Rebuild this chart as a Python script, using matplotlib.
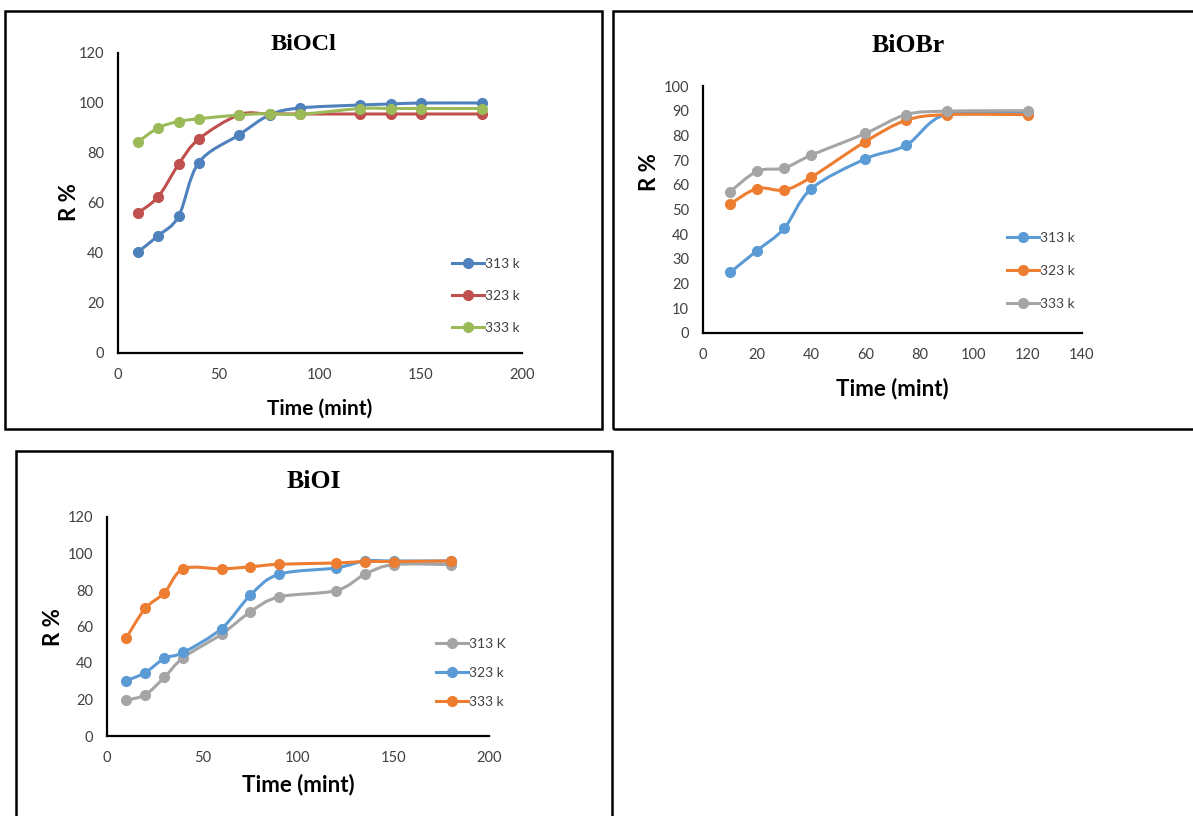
import numpy as np
import matplotlib
matplotlib.use("Agg")
import matplotlib.pyplot as plt
from matplotlib.path import Path
from matplotlib.patches import PathPatch, Rectangle
from matplotlib.lines import Line2D

# ---------------- data ----------------
t_cl = [10, 20, 30, 40, 60, 75, 90, 120, 135, 150, 180]
cl_313 = [40.5, 47, 54.7, 76.2, 87.3, 95.2, 98, 99.2, 99.6, 100, 100]
cl_323 = [56.1, 62.6, 75.5, 85.6, 95.3, 95.6, 95.6, 95.6, 95.6, 95.6, 95.6]
cl_333 = [84.5, 90.1, 92.6, 93.7, 95.2, 95.8, 95.5, 97.8, 97.8, 97.8, 97.8]

t_br = [10, 20, 30, 40, 60, 75, 90, 120]
br_313 = [24.5, 33.4, 42.4, 58.4, 70.5, 76, 88.6, 88.8]
br_323 = [52.2, 58.5, 57.9, 63.1, 77.5, 86.1, 88.4, 88.4]
br_333 = [57.2, 65.5, 66.8, 72, 80.8, 88.4, 89.8, 90]

t_i = [10, 20, 30, 40, 60, 75, 90, 120, 135, 150, 180]
i_313 = [19.7, 22.6, 32.1, 43, 55.8, 68, 76.2, 79.7, 88.6, 93.9, 93.9]
i_323 = [30.3, 34.7, 42.5, 45.8, 58.9, 77.1, 88.6, 92.1, 95.9, 95.9, 95.9]
i_333 = [53.6, 69.9, 78.4, 91.6, 91.6, 92.7, 94.1, 94.8, 95.6, 95.6, 95.9]

W, H = 1193, 816
fig = plt.figure(figsize=(W / 100, H / 100), dpi=100)

SANS = ['Lato', 'DejaVu Sans']
SERIF = ['Liberation Serif', 'DejaVu Serif']
TXT = '#404040'


def frac(l, t, r, b):
    return [l / W, 1 - b / H, (r - l) / W, (b - t) / H]


def smooth_line(ax, x, y, color):
    # excel-like smoothed line: cubic bezier through the data points
    p = np.column_stack([x, y]).astype(float)
    n = len(p)
    verts = [p[0]]
    codes = [Path.MOVETO]
    for i in range(n - 1):
        p0 = p[i - 1] if i > 0 else p[i]
        p3 = p[i + 2] if i + 2 < n else p[i + 1]
        c1 = p[i] + (p[i + 1] - p0) / 6
        c2 = p[i + 1] - (p3 - p[i]) / 6
        verts += [c1, c2, p[i + 1]]
        codes += [Path.CURVE4] * 3
    ax.add_patch(PathPatch(Path(verts, codes), fill=False, edgecolor=color,
                           lw=2.2, capstyle='round', joinstyle='round'))
    ax.plot(x, y, 'o', color=color, ms=7, zorder=3)


def panel(box, x, series, xmax, xstep, ymax, ystep, leg_pos, leg_space):
    ax = fig.add_axes(frac(*box))
    handles = []
    for yv, col, lab in series:
        smooth_line(ax, x, yv, col)
        handles.append(Line2D([], [], color=col, lw=2.2, marker='o', ms=7, label=lab))
    ax.set_xlim(0, xmax)
    ax.set_ylim(0, ymax)
    ax.set_xticks(np.arange(0, xmax + 1, xstep))
    ax.set_yticks(np.arange(0, ymax + 1, ystep))
    for s in ['top', 'right']:
        ax.spines[s].set_visible(False)
    for s in ['left', 'bottom']:
        ax.spines[s].set_linewidth(1.6)
        ax.spines[s].set_color('black')
    ax.tick_params(length=0, labelsize=10.5, labelcolor=TXT)
    ax.tick_params(axis='y', pad=10)
    ax.tick_params(axis='x', pad=11)
    for lb in ax.get_xticklabels() + ax.get_yticklabels():
        lb.set_fontfamily(SANS)
    leg = ax.legend(handles=handles, loc='center left', bbox_to_anchor=leg_pos,
                    frameon=False, borderpad=0, borderaxespad=0, handlelength=2.3,
                    handletextpad=0.1, labelspacing=leg_space,
                    prop={'family': SANS, 'size': 10})
    for tx in leg.get_texts():
        tx.set_color(TXT)
    return ax


# BiOCl
panel((118, 53, 522, 353), t_cl,
      [(cl_313, '#4F81BD', '313 k'), (cl_323, '#C0504D', '323 k'), (cl_333, '#9BBB59', '333 k')],
      200, 50, 120, 20, (0.827, 0.190), 1.45)
# BiOBr
panel((703, 86, 1082, 333), t_br,
      [(br_313, '#5B9BD5', '313 k'), (br_323, '#ED7D31', '323 k'), (br_333, '#A5A5A5', '333 k')],
      140, 20, 100, 10, (0.802, 0.251), 1.5)
# BiOI
panel((107, 517, 489, 736), t_i,
      [(i_313, '#A5A5A5', '313 K'), (i_323, '#5B9BD5', '323 k'), (i_333, '#ED7D31', '333 k')],
      200, 50, 120, 20, (0.861, 0.288), 1.2)


# titles and axis labels (pixel positions)
def ftext(x, y, s, **kw):
    fig.text(x / W, 1 - y / H, s, ha='center', va='center', **kw)


ftext(303, 45, 'BiOCl', family=SERIF, weight='bold', size=17.5)
ftext(908, 45, 'BiOBr', family=SERIF, weight='bold', size=18.5)
ftext(314, 481, 'BiOI', family=SERIF, weight='bold', size=18.5)

ftext(320, 409, 'Time (mint)', family=SANS, weight='bold', size=15)
ftext(892, 389, 'Time (mint)', family=SANS, weight='bold', size=16)
ftext(298, 785, 'Time (mint)', family=SANS, weight='bold', size=16)

ftext(69, 202, 'R %', family=SANS, weight='bold', size=16, rotation=90)
ftext(650, 172, 'R %', family=SANS, weight='bold', size=16, rotation=90)
ftext(53, 627, 'R %', family=SANS, weight='bold', size=16, rotation=90)

# panel frames
for (l, t, r, b) in [(5, 11, 602, 429), (613, 11, 1200, 429), (16, 451, 612, 830)]:
    fig.add_artist(Rectangle((l / W, 1 - b / H), (r - l) / W, (b - t) / H,
                             transform=fig.transFigure, fill=False, lw=1.8,
                             edgecolor='black'))

fig.savefig('out.png', dpi=100)
